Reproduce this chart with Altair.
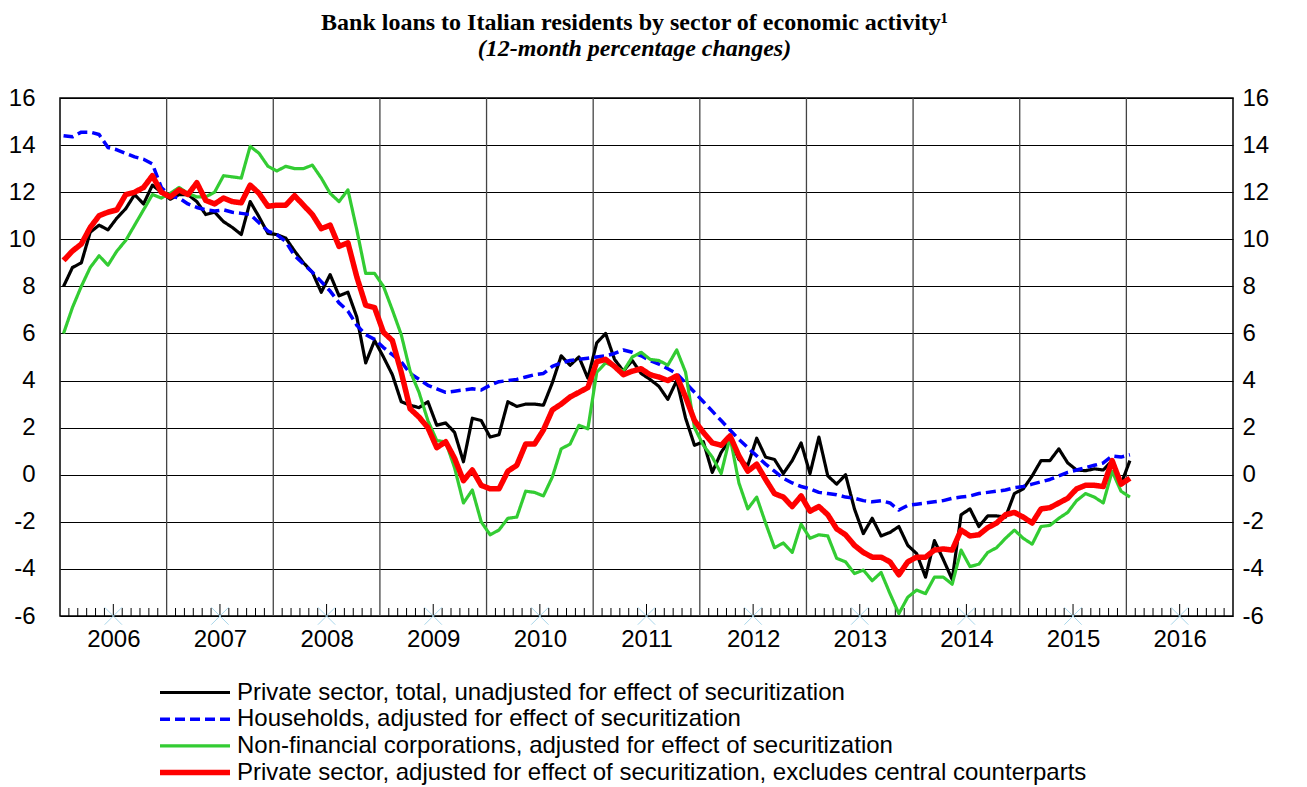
import altair as alt
import pandas as pd

# ---------------- data (monthly, Jan 2006 - Jan 2016) ----------------
series_names = [
    "Private sector, total, unadjusted for effect of securitization",
    "Households, adjusted for effect of securitization",
    "Non-financial corporations, adjusted for effect of securitization",
    "Private sector, adjusted for effect of securitization, excludes central counterparts",
]

black = [
    8.0, 8.8, 9.0, 10.3, 10.6, 10.4, 10.9, 11.3, 11.9, 11.5, 12.3, 12.0,
    11.7, 11.9, 11.9, 11.6, 11.05, 11.15, 10.75, 10.5, 10.2, 11.6, 10.95, 10.25,
    10.2, 10.05, 9.5, 9.0, 8.6, 7.75, 8.5, 7.6, 7.75, 6.7, 4.75, 5.7,
    5.0, 4.25, 3.1, 2.95, 2.85, 3.1, 2.1, 2.2, 1.8, 0.55, 2.4, 2.3,
    1.6, 1.7, 3.1, 2.9, 3.0, 3.0, 2.95, 3.9, 5.05, 4.65, 5.0, 4.1,
    5.6, 6.0, 4.9, 4.4, 4.85, 4.3, 4.05, 3.75, 3.2, 4.0, 2.4, 1.25,
    1.4, 0.1, 0.95, 1.5, 0.65, 0.4, 1.55, 0.75, 0.65, 0.05, 0.6, 1.35,
    0.05, 1.6, -0.05, -0.4, 0.0, -1.45, -2.5, -1.85, -2.6, -2.45, -2.2, -3.0,
    -3.35, -4.35, -2.8, -3.6, -4.45, -1.7, -1.45, -2.2, -1.75, -1.75, -1.8, -0.8,
    -0.6, -0.05, 0.6, 0.6, 1.1, 0.5, 0.2, 0.17, 0.25, 0.2, 0.6, -0.4,
    0.6,
]
blue = [
    14.4, 14.35, 14.55, 14.55, 14.45, 13.9, 13.8, 13.65, 13.5, 13.4, 13.2, 12.2,
    11.85, 11.75, 11.5, 11.35, 11.25, 11.2, 11.25, 11.15, 11.1, 11.05, 10.7, 10.35,
    10.2, 9.9, 9.3, 8.95, 8.6, 8.2, 7.8, 7.3, 6.95, 6.35, 5.95, 5.75,
    5.4, 5.1, 4.8, 4.3, 4.05, 3.8, 3.65, 3.5, 3.55, 3.6, 3.65, 3.6,
    3.8, 3.95, 4.0, 4.05, 4.15, 4.25, 4.3, 4.6, 4.75, 4.85, 4.9, 4.95,
    5.0, 5.05, 5.15, 5.3, 5.2, 5.05, 4.85, 4.7, 4.5, 4.3, 3.9, 3.5,
    3.1, 2.7, 2.3, 1.9, 1.5, 1.15, 0.8, 0.45, 0.15, -0.15, -0.35, -0.5,
    -0.6, -0.75, -0.8, -0.85, -0.95, -1.0, -1.1, -1.15, -1.1, -1.2, -1.5, -1.3,
    -1.25, -1.2, -1.15, -1.1, -1.0, -0.95, -0.9, -0.8, -0.75, -0.7, -0.65, -0.55,
    -0.5, -0.4, -0.3, -0.2, -0.05, 0.1, 0.2, 0.3, 0.4, 0.5, 0.8, 0.75,
    0.85,
]
green = [
    6.0, 7.1, 8.0, 8.8, 9.3, 8.9, 9.5, 9.95, 10.6, 11.25, 11.9, 11.75,
    11.95, 12.2, 11.95, 11.8, 11.8, 12.0, 12.7, 12.65, 12.6, 13.95, 13.65, 13.1,
    12.9, 13.1, 13.0, 13.0, 13.15, 12.6, 11.95, 11.6, 12.1, 10.4, 8.55, 8.55,
    8.0, 7.0, 5.95, 4.4, 3.5, 2.3, 1.45, 1.4, 0.3, -1.2, -0.65, -2.0,
    -2.55, -2.35, -1.85, -1.8, -0.7, -0.75, -0.9, -0.1, 1.1, 1.3, 2.1, 1.95,
    4.35, 4.75, 4.6, 4.4, 5.0, 5.2, 4.9, 4.85, 4.65, 5.3, 4.35, 2.0,
    1.25, 0.75, 0.05, 1.6, -0.35, -1.45, -0.95, -2.05, -3.1, -2.9, -3.3, -2.1,
    -2.7, -2.55, -2.6, -3.55, -3.7, -4.2, -4.05, -4.5, -4.15, -5.05, -5.9, -5.2,
    -4.9, -5.05, -4.35, -4.35, -4.65, -3.2, -3.9, -3.8, -3.3, -3.1, -2.7, -2.35,
    -2.7, -2.95, -2.2, -2.15, -1.85, -1.6, -1.1, -0.8, -0.95, -1.2, 0.15, -0.7,
    -0.95,
]
red = [
    9.1, 9.5, 9.8, 10.5, 11.0, 11.15, 11.25, 11.9, 12.0, 12.2, 12.7, 12.0,
    11.8, 12.1, 11.9, 12.4, 11.65, 11.5, 11.75, 11.6, 11.55, 12.3, 11.95, 11.4,
    11.45, 11.45, 11.85, 11.45, 11.05, 10.45, 10.6, 9.7, 9.85, 8.4, 7.2, 7.1,
    6.05, 5.7, 4.35, 2.8, 2.45, 2.0, 1.15, 1.4, 0.7, -0.25, 0.2, -0.45,
    -0.6, -0.6, 0.15, 0.4, 1.3, 1.3, 1.9, 2.75, 3.0, 3.3, 3.5, 3.7,
    4.8, 4.9, 4.6, 4.25, 4.4, 4.5, 4.25, 4.15, 4.0, 4.2, 3.3, 2.3,
    1.8, 1.35, 1.25, 1.65, 0.8, 0.15, 0.45, -0.2, -0.8, -0.95, -1.35, -0.9,
    -1.55, -1.35, -1.7, -2.3, -2.55, -3.0, -3.3, -3.5, -3.5, -3.7, -4.25, -3.7,
    -3.5, -3.5, -3.2, -3.15, -3.2, -2.35, -2.6, -2.55, -2.25, -2.05, -1.7, -1.6,
    -1.8, -2.05, -1.45, -1.4, -1.2, -1.0, -0.6, -0.45, -0.45, -0.5, 0.6, -0.4,
    -0.15,
]

year_labels = list(range(2006, 2017))
year_bounds = list(range(2007, 2017))
y_ticks = list(range(-6, 17, 2))

series_values = [black, blue, green, red]
series_colors = ["#000000", "#0000ff", "#33cc33", "#ff0000"]
series_widths = [3.2, 3.5, 3.2, 5.5]
series_dashes = [[1, 0], [10, 5], [1, 0], [1, 0]]

# ---------------- tables ----------------
rows = []
for name, vals in zip(series_names, series_values):
    for i, v in enumerate(vals):
        rows.append({"t": 2006 + (i + 0.4) / 12.0, "v": v, "series": name})
df = pd.DataFrame(rows)

grid_df = pd.DataFrame({"t": year_bounds})
month_pos = [2006 + k / 12.0 for k in range(1, 132) if k % 12 != 0]
minor_df = pd.DataFrame({"t": [m for m in month_pos if round((m - 2006) * 12) % 12 != 6]})
mid_df = pd.DataFrame({"t": [y + 0.5 for y in year_labels]})
legend_df = pd.DataFrame({"series": series_names})

W, H = 1173, 518
SANS = "Liberation Sans"

x_scale = alt.Scale(domain=[2006, 2017], nice=False, zero=False)
x_axis = alt.Axis(values=[y + 0.5 for y in year_labels], labelExpr="'' + floor(datum.value)",
                  ticks=False, grid=False, domain=False, title=None,
                  labelFontSize=24, labelFont=SANS, labelColor="black", labelPadding=11)
y_scale = alt.Scale(domain=[-6, 16], nice=False, zero=False)
left_axis = alt.Axis(values=y_ticks, labelExpr="'' + datum.value",
                     grid=True, gridColor="black", gridWidth=1, gridOpacity=1,
                     ticks=False, domain=False, title=None, labelFontSize=24, labelFont=SANS,
                     labelColor="black", labelPadding=25, orient="left")
right_axis = alt.Axis(values=y_ticks, labelExpr="'' + datum.value",
                      grid=False, ticks=False, domain=False, title=None,
                      labelFontSize=24, labelFont=SANS, labelColor="black", labelPadding=9,
                      orient="right")

X = alt.X("t:Q", scale=x_scale, axis=x_axis)

vgrid = alt.Chart(grid_df).mark_rule(color="#444444", strokeWidth=1.3).encode(x=X)
minor = alt.Chart(minor_df).mark_rule(color="black", strokeWidth=1).encode(
    x=X, y=alt.value(H), y2=alt.value(H - 8))
mid = alt.Chart(mid_df).mark_rule(color="black", strokeWidth=1).encode(
    x=X, y=alt.value(H), y2=alt.value(H - 12))
cross = alt.Chart(mid_df).mark_point(shape="M-1,-1L1,1M-1,1L1,-1", size=300, filled=False,
                                     stroke="#a9d6ea", strokeWidth=1, opacity=1).encode(
    x=X, y=alt.value(H))


def line(idx, axis):
    return alt.Chart(df[df.series == series_names[idx]]).mark_line(
        color=series_colors[idx], strokeWidth=series_widths[idx],
        strokeDash=series_dashes[idx], strokeJoin="round").encode(
        x=X, y=alt.Y("v:Q", scale=y_scale, axis=axis))


main = alt.layer(vgrid, minor, mid, cross, line(0, left_axis), line(1, left_axis), line(2, left_axis))
red_line = line(3, right_axis)

leg_y = alt.Y("series:N", scale=alt.Scale(type="point", domain=series_names, range=[594.5, 674.5], padding=0),
              axis=None)
leg_layers = []
for i, name in enumerate(series_names):
    leg_layers.append(
        alt.Chart(legend_df[legend_df.series == name]).mark_rule(
            color=series_colors[i], strokeWidth=series_widths[i], strokeDash=series_dashes[i]).encode(
            x=alt.value(100), x2=alt.value(170), y=leg_y))
leg_layers.append(
    alt.Chart(legend_df).mark_text(align="left", baseline="middle", fontSize=24, font=SANS,
                                   color="black").encode(x=alt.value(177), y=leg_y, text="series:N"))
legend = alt.layer(*leg_layers)

chart = alt.layer(main, red_line, legend).resolve_scale(y="independent").properties(
    width=W, height=H, padding={"left": 0, "top": 3, "right": 5, "bottom": 8},
    title=alt.TitleParams(
        text="Bank loans to Italian residents by sector of economic activity\u00b9",
        subtitle="(12-month percentage changes)",
        font="Liberation Serif", fontSize=24, fontWeight="bold", color="black",
        subtitleFont="Liberation Serif", subtitleFontSize=24, subtitleFontWeight="bold",
        subtitleFontStyle="italic", subtitleColor="black", subtitlePadding=2,
        anchor="middle", frame="group", dx=-12, offset=25),
).configure_view(stroke="black", strokeWidth=1.5)

chart.save("out.html", embed_options={"renderer": "svg", "actions": False})
